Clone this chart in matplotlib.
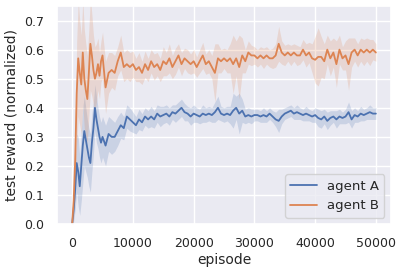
import numpy as np
import matplotlib
matplotlib.use("Agg")
import matplotlib.pyplot as plt
import seaborn as sns

# episodes: fine steps early on, then every 500
episodes = np.concatenate([np.arange(0, 5001, 250), np.arange(5500, 50001, 500)])

agent_a = [0.00, 0.05, 0.12, 0.21, 0.18, 0.13, 0.20, 0.27, 0.32, 0.29, 0.26,
           0.23, 0.21, 0.28, 0.33, 0.40, 0.36, 0.33, 0.30, 0.28, 0.30,
           0.27, 0.31, 0.30, 0.30, 0.32, 0.34, 0.33, 0.37, 0.36, 0.35,
           0.34, 0.36, 0.35, 0.37, 0.36, 0.37, 0.36, 0.38, 0.37, 0.375,
           0.38, 0.37, 0.385, 0.38, 0.39, 0.40, 0.385, 0.38, 0.37, 0.38,
           0.375, 0.37, 0.38, 0.375, 0.38, 0.375, 0.385, 0.40, 0.38, 0.375,
           0.38, 0.375, 0.39, 0.40, 0.38, 0.39, 0.37, 0.375, 0.37, 0.375,
           0.375, 0.37, 0.375, 0.37, 0.38, 0.37, 0.36, 0.355, 0.37, 0.38,
           0.385, 0.39, 0.38, 0.385, 0.38, 0.375, 0.38, 0.375, 0.37, 0.375,
           0.365, 0.36, 0.37, 0.355, 0.365, 0.37, 0.36, 0.37, 0.365, 0.37,
           0.385, 0.36, 0.375, 0.37, 0.38, 0.375, 0.38, 0.385, 0.38, 0.38]
spread_a = [0.01, 0.04, 0.07, 0.10, 0.12, 0.10, 0.12, 0.13, 0.12, 0.11, 0.10,
            0.10, 0.10, 0.10, 0.09, 0.08, 0.08, 0.07, 0.07, 0.07, 0.07,
            0.07, 0.06, 0.06, 0.05, 0.05, 0.045, 0.04, 0.04, 0.04, 0.035,
            0.03, 0.035, 0.03, 0.03, 0.03, 0.035, 0.03, 0.03, 0.035, 0.03,
            0.03, 0.03, 0.025, 0.03, 0.03, 0.03, 0.03, 0.025, 0.03, 0.03,
            0.025, 0.025, 0.03, 0.025, 0.025, 0.025, 0.035, 0.04, 0.025, 0.025,
            0.025, 0.03, 0.06, 0.04, 0.07, 0.04, 0.025, 0.025, 0.025, 0.02,
            0.02, 0.02, 0.025, 0.02, 0.02, 0.02, 0.025, 0.04, 0.025, 0.02,
            0.02, 0.02, 0.02, 0.025, 0.02, 0.02, 0.025, 0.02, 0.02, 0.025,
            0.03, 0.03, 0.025, 0.03, 0.025, 0.02, 0.03, 0.025, 0.02, 0.025,
            0.035, 0.03, 0.025, 0.02, 0.025, 0.02, 0.02, 0.025, 0.02, 0.02]

agent_b = [0.00, 0.08, 0.22, 0.45, 0.57, 0.52, 0.48, 0.59, 0.50, 0.46, 0.43,
           0.52, 0.62, 0.58, 0.53, 0.50, 0.52, 0.55, 0.51, 0.56, 0.58,
           0.47, 0.52, 0.53, 0.52, 0.56, 0.59, 0.54, 0.55, 0.54, 0.55,
           0.53, 0.54, 0.52, 0.55, 0.53, 0.56, 0.54, 0.55, 0.53, 0.56,
           0.55, 0.57, 0.54, 0.56, 0.58, 0.55, 0.57, 0.56, 0.55, 0.56,
           0.54, 0.56, 0.58, 0.55, 0.56, 0.54, 0.52, 0.57, 0.56, 0.57,
           0.56, 0.57, 0.55, 0.57, 0.54, 0.58, 0.56, 0.59, 0.58, 0.58,
           0.57, 0.58, 0.57, 0.58, 0.57, 0.57, 0.58, 0.62, 0.59, 0.58,
           0.59, 0.58, 0.59, 0.58, 0.58, 0.60, 0.58, 0.59, 0.57, 0.565,
           0.575, 0.575, 0.56, 0.60, 0.57, 0.59, 0.55, 0.60, 0.57, 0.58,
           0.55, 0.59, 0.60, 0.58, 0.60, 0.59, 0.60, 0.59, 0.60, 0.59]
spread_b = [0.01, 0.05, 0.12, 0.18, 0.20, 0.18, 0.17, 0.18, 0.17, 0.16, 0.15,
            0.15, 0.16, 0.14, 0.12, 0.11, 0.10, 0.09, 0.08, 0.07, 0.08,
            0.09, 0.07, 0.06, 0.06, 0.05, 0.06, 0.05, 0.05, 0.05, 0.045,
            0.04, 0.05, 0.04, 0.045, 0.04, 0.04, 0.045, 0.04, 0.04, 0.05,
            0.04, 0.05, 0.04, 0.045, 0.04, 0.04, 0.035, 0.04, 0.035, 0.04,
            0.035, 0.04, 0.045, 0.035, 0.04, 0.04, 0.10, 0.05, 0.04, 0.035,
            0.04, 0.05, 0.10, 0.06, 0.11, 0.06, 0.04, 0.04, 0.035, 0.03,
            0.03, 0.03, 0.035, 0.03, 0.03, 0.035, 0.04, 0.06, 0.04, 0.035,
            0.03, 0.035, 0.03, 0.035, 0.03, 0.035, 0.04, 0.035, 0.05, 0.08,
            0.10, 0.07, 0.06, 0.05, 0.06, 0.05, 0.08, 0.05, 0.04, 0.05,
            0.09, 0.05, 0.04, 0.04, 0.04, 0.045, 0.04, 0.045, 0.035, 0.03]

sns.set_theme(style="darkgrid")
plt.rcParams['font.family'] = ['DejaVu Sans']

fig, ax = plt.subplots(figsize=(4.04, 2.72), dpi=100)
fig.subplots_adjust(left=0.141, right=0.968, top=0.978, bottom=0.176)

colors = sns.color_palette()
for name, mean, spread, c in [("agent A", agent_a, spread_a, colors[0]),
                              ("agent B", agent_b, spread_b, colors[1])]:
    mean = np.array(mean)
    spread = np.array(spread)
    ax.fill_between(episodes, mean - spread, mean + spread, color=c, alpha=0.2, lw=0)
    ax.plot(episodes, mean, color=c, lw=1.3, label=name)

ax.set_ylim(0, 0.75)
ax.set_xticks([0, 10000, 20000, 30000, 40000, 50000])
ax.tick_params(labelsize=9)
ax.set_xlabel("episode", fontsize=10, labelpad=2)
ax.set_ylabel("test reward (normalized)", fontsize=10)
ax.legend(loc="lower right", fontsize=9.5)

fig.savefig("out.png", dpi=100)
